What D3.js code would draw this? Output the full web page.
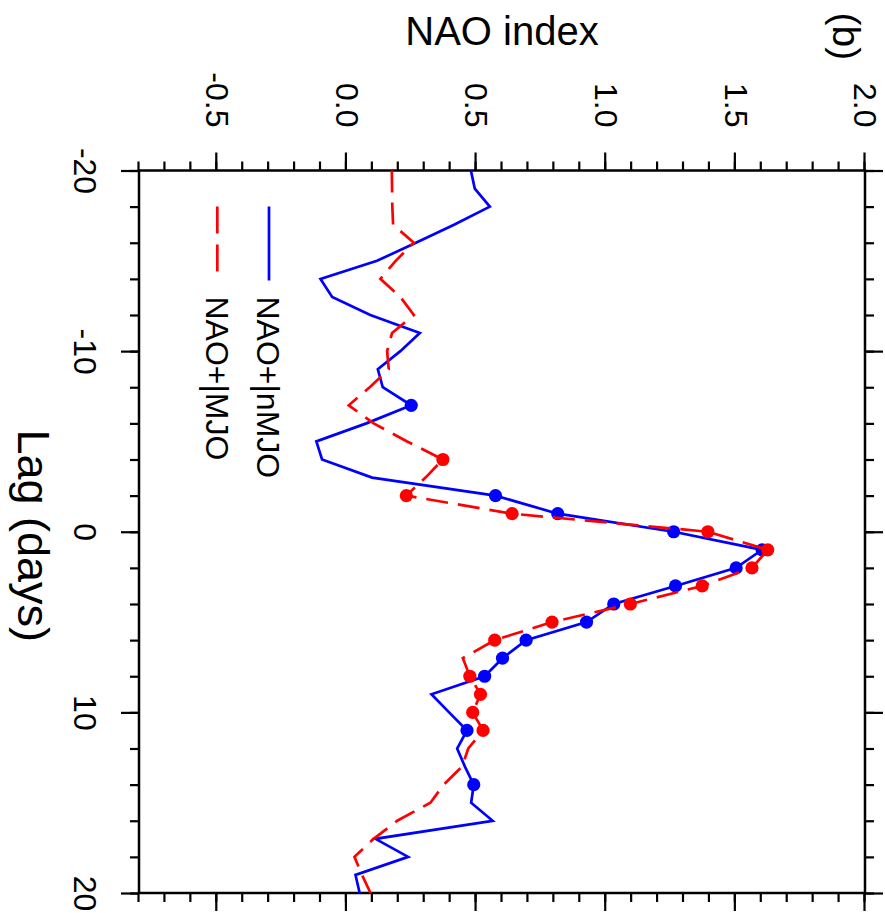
<!DOCTYPE html>
<html>
<head>
<meta charset="utf-8">
<script src="https://cdn.jsdelivr.net/npm/d3@7"></script>
<style>
  body { margin: 0; background: #fff; }
  svg { display: block; }
  text { font-family: "Liberation Sans", Arial, Helvetica, sans-serif; fill: #000; }
</style>
</head>
<body>
<svg id="chart" width="885" height="913"></svg>
<script>
// Lagged NAO index composites (days relative to onset)
const lags = [-20,-19,-18,-17,-16,-15,-14,-13,-12,-11,-10,-9,-8,-7,-6,-5,-4,-3,-2,-1,
               0,1,2,3,4,5,6,7,8,9,10,11,12,13,14,15,16,17,18,19,20];
const naoNoMJO = [0.48,0.495,0.553,0.415,0.268,0.118,-0.10,-0.055,0.092,0.283,0.208,0.121,0.14,0.25,0.077,-0.116,-0.094,0.099,0.575,0.815,
                  1.262,1.603,1.503,1.269,1.031,0.926,0.693,0.602,0.533,0.328,0.396,0.465,0.427,0.457,0.491,0.481,0.564,0.112,0.238,0.035,0.051];
const naoMJO   = [0.175,0.176,0.177,0.18,0.26,0.19,0.131,0.208,0.26,0.176,0.157,0.163,0.09,0.009,0.105,0.234,0.372,0.305,0.231,0.639,
                  1.394,1.625,1.564,1.372,1.095,0.793,0.572,0.449,0.476,0.517,0.487,0.527,0.47,0.446,0.375,0.324,0.196,0.105,0.031,0.06,0.093];
// Lags where the composite is significant (marked with dots)
const sigNoMJO = [-7,-2,-1,0,1,2,3,4,5,6,7,8,11,14];
const sigMJO   = [-4,-2,-1,0,1,2,3,4,5,6,8,9,10,11];

const seriesNames = ["NAO+|nMJO", "NAO+|MJO"];
const lagTicks = [-20,-10,0,10,20];
const lagTickLabels = ["-20","-10","0","10","20"];
const naoTicks = [-0.5,0,0.5,1,1.5,2];
const naoTickLabels = ["-0.5","0.0","0.5","1.0","1.5","2.0"];

const W = 722.5, H = 726;
const svg = d3.select("#chart");
// The panel is laid out with lag along x and NAO along y, then turned a quarter turn clockwise.
const g = svg.append("g").attr("transform", "translate(865,170.5) rotate(90)");

const x = d3.scaleLinear().domain([-20, 20]).range([0, W]);
const y = d3.scaleLinear().domain([-0.8, 2.0]).range([H, 0]);

const lagMinor = d3.range(-20, 20.001, 2);
const naoMinor = d3.range(-8, 20.001, 1).map(v => v / 10);

function styleAxis(sel) {
  sel.select(".domain").remove();
  sel.selectAll("line").attr("stroke", "#000").attr("stroke-width", 2.2);
  sel.selectAll("text").style("font-size", "32px").attr("fill", "#000");
}

// minor ticks
g.append("g").attr("transform", `translate(0,${H})`)
  .call(d3.axisBottom(x).tickValues(lagMinor).tickSize(9).tickFormat("")).call(styleAxis);
g.append("g")
  .call(d3.axisTop(x).tickValues(lagMinor).tickSize(9).tickFormat("")).call(styleAxis);
g.append("g")
  .call(d3.axisLeft(y).tickValues(naoMinor).tickSize(9).tickFormat("")).call(styleAxis);
g.append("g").attr("transform", `translate(${W},0)`)
  .call(d3.axisRight(y).tickValues(naoMinor).tickSize(9).tickFormat("")).call(styleAxis);

// major ticks with labels
g.append("g").attr("transform", `translate(0,${H})`)
  .call(d3.axisBottom(x).tickValues(lagTicks).tickSize(18).tickPadding(24)
        .tickFormat((d, i) => lagTickLabels[i])).call(styleAxis);
g.append("g")
  .call(d3.axisTop(x).tickValues(lagTicks).tickSize(18).tickFormat("")).call(styleAxis);
g.append("g")
  .call(d3.axisLeft(y).tickValues(naoTicks).tickSize(18).tickPadding(25)
        .tickFormat((d, i) => naoTickLabels[i])).call(styleAxis);
g.append("g").attr("transform", `translate(${W},0)`)
  .call(d3.axisRight(y).tickValues(naoTicks).tickSize(18).tickFormat("")).call(styleAxis);

// frame
g.append("rect").attr("x", 0).attr("y", 0).attr("width", W).attr("height", H)
  .attr("fill", "none").attr("stroke", "#000").attr("stroke-width", 2.5);

// axis titles and panel label
g.append("text").attr("transform", `translate(-126,${H / 2}) rotate(-90)`)
  .attr("text-anchor", "middle").style("font-size", "40px").text("NAO index");
g.append("text").attr("x", W / 2 + 4).attr("y", H + 121)
  .attr("text-anchor", "middle").style("font-size", "45px").text("Lag (days)");
g.append("text").attr("x", -158).attr("y", 32)
  .attr("text-anchor", "start").style("font-size", "39px").text("(b)");

// series
const line = d3.line().x(d => x(d[0])).y(d => y(d[1]));
const series = [
  { name: seriesNames[0], values: naoNoMJO, sig: sigNoMJO, color: "#0000ff", dash: null, legendDash: null },
  { name: seriesNames[1], values: naoMJO, sig: sigMJO, color: "#ff0000", dash: "22,10", legendDash: "27,11" }
];

series.forEach(s => {
  const pts = lags.map((l, i) => [l, s.values[i]]);
  g.append("path").datum(pts).attr("d", line)
    .attr("fill", "none").attr("stroke", s.color).attr("stroke-width", 2.7)
    .attr("stroke-linejoin", "miter").attr("stroke-dasharray", s.dash);
  g.append("g").selectAll("circle")
    .data(pts.filter(p => s.sig.includes(p[0])))
    .join("circle")
    .attr("cx", d => x(d[0])).attr("cy", d => y(d[1])).attr("r", 6.6)
    .attr("fill", s.color);
});

// legend
const legendY = [596, 647.7];
series.forEach((s, i) => {
  g.append("line").attr("x1", 36).attr("x2", 110)
    .attr("y1", legendY[i]).attr("y2", legendY[i])
    .attr("stroke", s.color).attr("stroke-width", 2.7)
    .attr("stroke-dasharray", s.legendDash);
  g.append("text").attr("x", 126).attr("y", legendY[i]).attr("dy", "0.36em")
    .style("font-size", "32px").text(s.name);
});
</script>
</body>
</html>
